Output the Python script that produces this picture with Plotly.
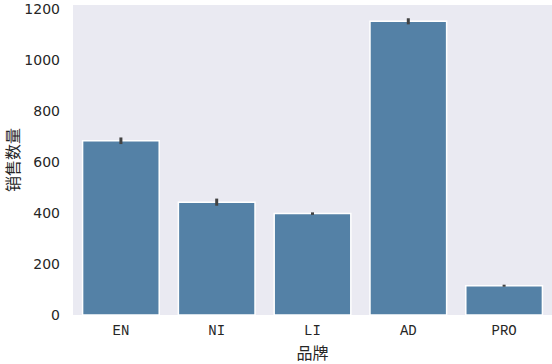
import plotly.graph_objects as go

brands = ["EN", "NI", "LI", "AD", "PRO"]
sales = [684, 443, 398, 1153, 115]
err = [13, 14, 5, 12, 4]
y_ticks = [0, 200, 400, 600, 800, 1000, 1200]

bar_color = "#5481A6"
text_color = "#262626"

fig = go.Figure()
fig.add_trace(go.Bar(
    x=brands, y=sales, width=0.8,
    marker=dict(color=bar_color, line=dict(color="white", width=1.5)),
    error_y=dict(type="data", array=err, visible=True, color="#424242",
                 thickness=3, width=0),
))

fig.update_layout(
    width=552, height=364,
    margin=dict(l=73, r=0, t=4.5, b=49),
    paper_bgcolor="white", plot_bgcolor="#EAEAF2",
    showlegend=False, bargap=0.2,
    font=dict(family="Noto Sans CJK SC, DejaVu Sans", color=text_color),
)
fig.update_xaxes(
    range=[-0.5, 4.5], showgrid=False, zeroline=False, showline=False,
    ticks="", ticklabelstandoff=5,
    tickfont=dict(family="Liberation Mono", size=14, color=text_color),
    title=dict(text="品牌", font=dict(family="Noto Sans CJK SC", size=16, color=text_color), standoff=10),
)
fig.update_yaxes(
    range=[0, 1217], tickvals=y_ticks, showgrid=False, zeroline=False,
    showline=False, ticks="", ticklabelstandoff=12,
    tickfont=dict(family="DejaVu Sans", size=14, color=text_color),
    title=dict(text="销售数量", font=dict(family="Noto Sans CJK SC", size=16, color=text_color), standoff=6),
)

fig.write_html("out.html")
